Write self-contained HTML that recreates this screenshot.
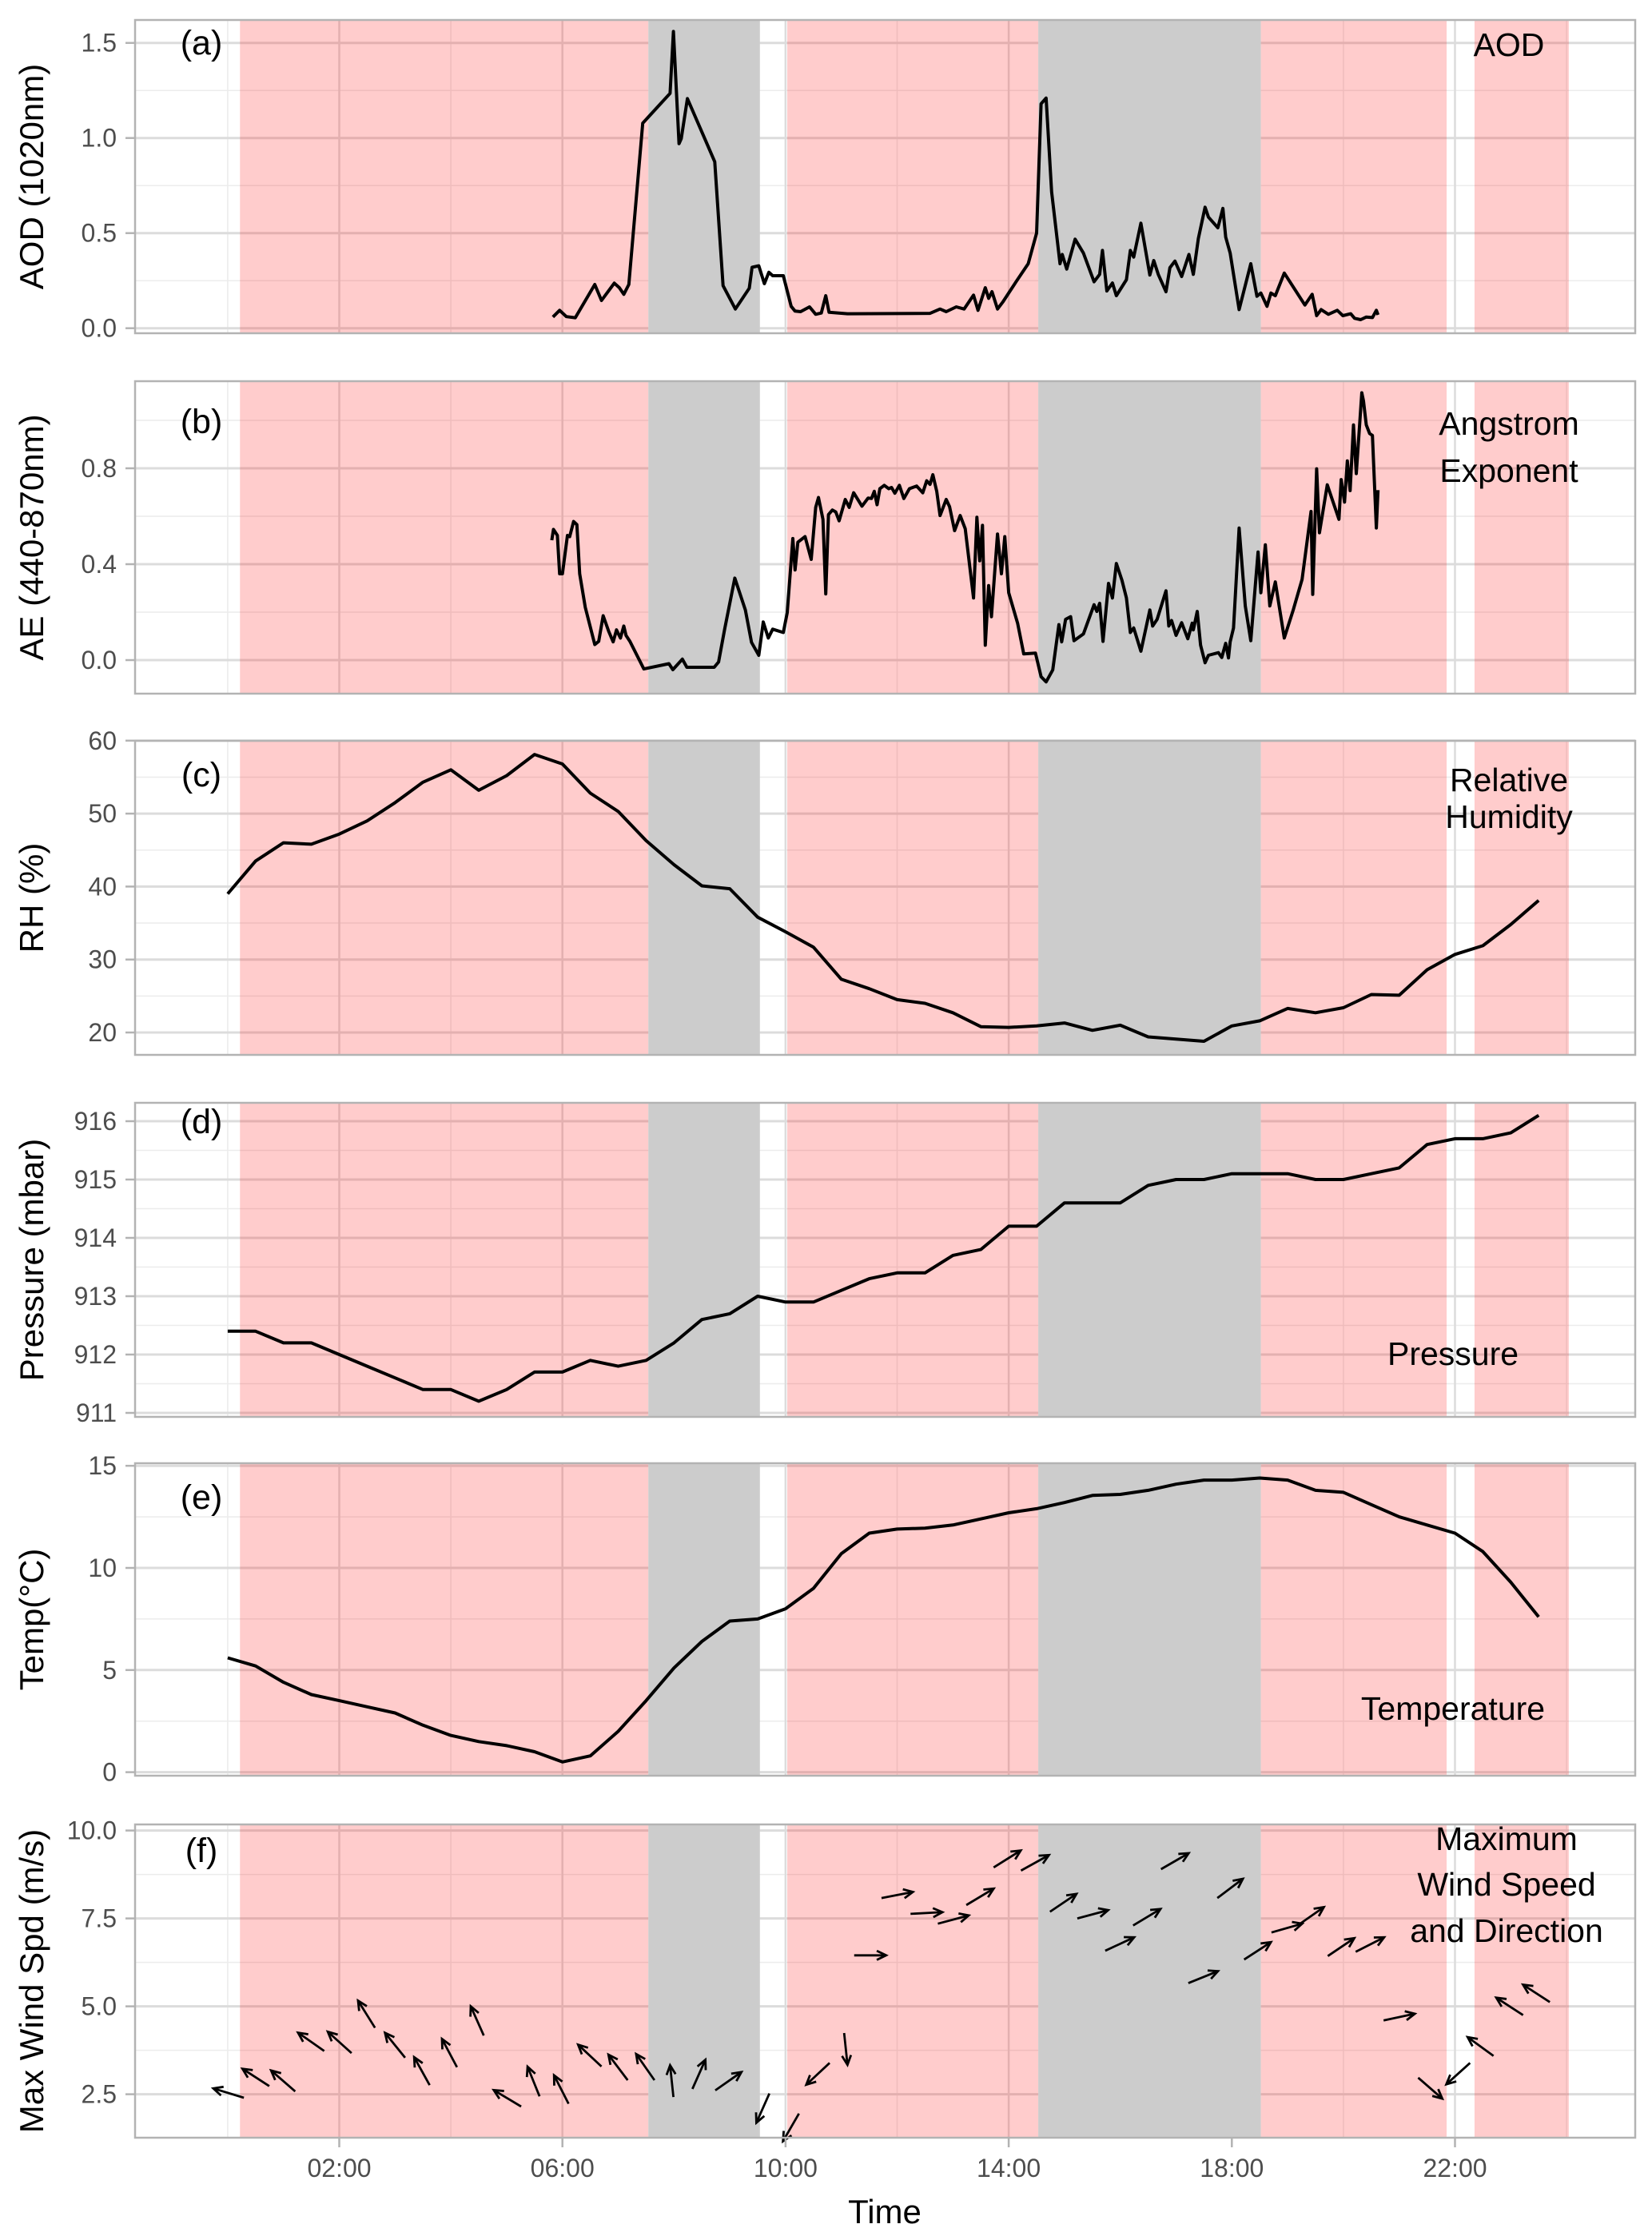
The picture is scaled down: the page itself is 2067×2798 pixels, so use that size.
<!DOCTYPE html>
<html><head><meta charset="utf-8"><style>
html,body{margin:0;padding:0;background:#fff;}
svg{display:block;font-family:"Liberation Sans",Arial,sans-serif;}
</style></head><body>
<svg id="chart" width="2067" height="2798" viewBox="0 0 2067 2798" xmlns="http://www.w3.org/2000/svg"></svg>
<script>
// ---- data ----
const shadePink = [[0.22,7.54],[10.03,14.53],[18.52,21.85],[22.35,24.04]];
const shadeGray = [[7.54,9.54],[14.53,18.52]];
const xTickHours = [2,6,10,14,18,22];
const xTickLabels = ["02:00","06:00","10:00","14:00","18:00","22:00"];

const aodTime = [5.83,5.95,6.07,6.23,6.58,6.70,6.93,7.02,7.10,7.19,7.44,7.93,7.99,8.09,8.13,8.24,8.73,8.88,9.10,9.35,9.40,9.52,9.62,9.70,9.77,9.96,10.10,10.17,10.27,10.43,10.54,10.64,10.72,10.78,11.11,12.59,12.77,12.88,13.06,13.20,13.37,13.45,13.58,13.64,13.70,13.80,13.90,14.14,14.35,14.50,14.58,14.67,14.77,14.92,14.96,15.04,15.19,15.34,15.53,15.63,15.68,15.76,15.86,15.93,16.11,16.18,16.24,16.37,16.53,16.60,16.68,16.82,16.89,16.98,17.10,17.23,17.31,17.40,17.52,17.58,17.75,17.84,17.89,17.97,18.13,18.34,18.45,18.52,18.63,18.70,18.78,18.94,19.31,19.44,19.52,19.60,19.73,19.89,19.99,20.13,20.20,20.31,20.41,20.52,20.59,20.62];
const aodValue = [0.059,0.094,0.061,0.055,0.23,0.146,0.237,0.213,0.178,0.23,1.078,1.235,1.56,0.97,0.997,1.207,0.875,0.224,0.101,0.21,0.32,0.328,0.234,0.294,0.276,0.276,0.115,0.09,0.087,0.112,0.073,0.08,0.171,0.084,0.076,0.078,0.101,0.087,0.112,0.101,0.174,0.094,0.213,0.157,0.192,0.101,0.14,0.248,0.339,0.50,1.18,1.21,0.717,0.339,0.388,0.311,0.468,0.395,0.244,0.283,0.409,0.196,0.238,0.171,0.255,0.409,0.374,0.552,0.28,0.356,0.283,0.192,0.318,0.353,0.272,0.388,0.283,0.472,0.636,0.584,0.528,0.63,0.479,0.395,0.098,0.339,0.168,0.185,0.115,0.185,0.171,0.29,0.122,0.178,0.066,0.098,0.073,0.094,0.066,0.076,0.052,0.045,0.059,0.056,0.094,0.07];

const aeTime = [5.81,5.84,5.91,5.95,6.00,6.09,6.13,6.20,6.26,6.31,6.41,6.58,6.65,6.73,6.83,6.91,6.97,7.04,7.10,7.14,7.21,7.46,7.91,7.98,8.15,8.23,8.72,8.80,8.91,9.09,9.28,9.39,9.52,9.60,9.69,9.77,9.96,10.03,10.13,10.17,10.22,10.35,10.46,10.54,10.59,10.67,10.72,10.77,10.84,10.90,10.96,11.07,11.14,11.22,11.37,11.48,11.54,11.59,11.64,11.69,11.77,11.85,11.90,11.96,12.04,12.12,12.22,12.35,12.46,12.53,12.59,12.64,12.71,12.77,12.88,12.94,13.03,13.13,13.22,13.37,13.43,13.48,13.53,13.58,13.64,13.69,13.80,13.87,13.93,14.00,14.16,14.27,14.48,14.58,14.67,14.79,14.90,14.95,15.02,15.11,15.17,15.34,15.53,15.58,15.63,15.69,15.79,15.86,15.93,16.03,16.11,16.18,16.24,16.37,16.53,16.58,16.66,16.82,16.87,16.92,17.00,17.10,17.21,17.29,17.31,17.38,17.44,17.52,17.58,17.76,17.82,17.89,17.94,17.97,18.03,18.13,18.24,18.34,18.47,18.52,18.60,18.68,18.78,18.94,19.10,19.26,19.42,19.45,19.52,19.57,19.71,19.92,19.96,20.02,20.07,20.12,20.18,20.23,20.33,20.36,20.41,20.47,20.52,20.59,20.62];
const aeValue = [0.50,0.545,0.52,0.36,0.36,0.52,0.515,0.578,0.565,0.36,0.22,0.065,0.078,0.185,0.12,0.076,0.126,0.092,0.142,0.103,0.078,-0.037,-0.015,-0.04,0.004,-0.03,-0.03,-0.008,0.131,0.342,0.209,0.074,0.02,0.159,0.092,0.129,0.115,0.198,0.507,0.376,0.492,0.515,0.42,0.637,0.678,0.587,0.276,0.607,0.626,0.618,0.581,0.67,0.637,0.698,0.642,0.676,0.674,0.704,0.648,0.715,0.729,0.715,0.72,0.696,0.729,0.674,0.715,0.726,0.698,0.748,0.733,0.773,0.703,0.603,0.67,0.64,0.54,0.603,0.548,0.259,0.596,0.414,0.562,0.062,0.311,0.181,0.526,0.36,0.515,0.281,0.153,0.026,0.029,-0.069,-0.091,-0.041,0.148,0.076,0.17,0.181,0.081,0.109,0.231,0.203,0.237,0.078,0.32,0.259,0.403,0.333,0.259,0.115,0.134,0.037,0.209,0.142,0.17,0.289,0.142,0.165,0.103,0.156,0.089,0.154,0.126,0.203,0.062,-0.011,0.02,0.031,0.011,0.07,0.009,0.076,0.134,0.551,0.226,0.081,0.451,0.281,0.481,0.226,0.326,0.092,0.209,0.337,0.62,0.274,0.798,0.531,0.731,0.587,0.753,0.659,0.831,0.707,0.981,0.778,1.115,1.081,0.981,0.945,0.937,0.551,0.709];

const rhTime = [0,0.5,1,1.5,2,2.5,3,3.5,4,4.5,5,5.5,6,6.5,7,7.5,8,8.5,9,9.5,10,10.5,11,11.5,12,12.5,13,13.5,14,14.5,15,15.5,16,16.5,17.5,18,18.5,19,19.5,20,20.5,21,21.5,22,22.5,23,23.5];
const rhValue = [39,43.5,46,45.8,47.2,49,51.5,54.3,56,53.2,55.2,58.1,56.8,52.8,50.3,46.3,43,40.1,39.7,35.8,33.8,31.7,27.3,26,24.5,24,22.7,20.8,20.7,20.9,21.3,20.3,21,19.4,18.8,20.9,21.6,23.3,22.7,23.4,25.2,25.1,28.6,30.7,31.9,34.8,38.1];

const presTime = [0,0.5,1,1.5,2,2.5,3,3.5,4,4.5,5,5.5,6,6.5,7,7.5,8,8.5,9,9.5,10,10.5,11,11.5,12,12.5,13,13.5,14,14.5,15,15.5,16,16.5,17,17.5,18,18.5,19,19.5,20,20.5,21,21.5,22,22.5,23,23.5];
const presValue = [912.4,912.4,912.2,912.2,912.0,911.8,911.6,911.4,911.4,911.2,911.4,911.7,911.7,911.9,911.8,911.9,912.2,912.6,912.7,913.0,912.9,912.9,913.1,913.3,913.4,913.4,913.7,913.8,914.2,914.2,914.6,914.6,914.6,914.9,915.0,915.0,915.1,915.1,915.1,915.0,915.0,915.1,915.2,915.6,915.7,915.7,915.8,916.1];

const tempTime = [0,0.5,1,1.5,2,2.5,3,3.5,4,4.5,5,5.5,6,6.5,7,7.5,8,8.5,9,9.5,10,10.5,11,11.5,12,12.5,13,13.5,14,14.5,15,15.5,16,16.5,17,17.5,18,18.5,19,19.5,20,20.5,21,21.5,22,22.5,23,23.5];
const tempValue = [5.6,5.2,4.4,3.8,3.5,3.2,2.9,2.3,1.8,1.5,1.3,1.0,0.5,0.8,2.0,3.5,5.1,6.4,7.4,7.5,8.0,9.0,10.7,11.7,11.9,11.95,12.1,12.4,12.7,12.9,13.2,13.55,13.6,13.8,14.1,14.3,14.3,14.4,14.3,13.8,13.7,13.1,12.5,12.1,11.7,10.8,9.3,7.6];

const windTime = [0.29,0.745,1.21,1.73,2.22,2.64,3.18,3.62,4.11,4.59,5.26,5.59,6.11,6.70,7.17,7.65,7.99,8.33,8.74,9.71,10.24,10.79,11.05,11.23,11.72,12.24,12.73,13.24,13.73,14.22,14.74,15.23,15.73,16.23,16.73,17.22,17.74,18.22,18.71,19.18,19.72,20.22,20.72,21.34,22.27,22.69,23.22,23.70];
const windSpeed = [2.40,2.73,2.58,3.73,3.67,4.39,3.54,2.76,3.27,4.17,2.15,2.44,2.23,3.29,2.90,2.90,2.42,2.65,2.61,2.52,1.95,3.39,4.24,6.45,8.08,7.63,7.35,7.88,8.95,8.86,7.69,7.50,6.58,7.30,8.90,5.66,8.08,6.33,7.10,7.30,6.43,6.55,4.60,2.97,3.39,3.59,4.75,5.12];
const windDirDeg = [163,147,139,145,138,122,129,119,118,114,149,112,117,137,127,125,96,66,35,246,240,223,276,0,11,3,15,31,32,29,34,15,25,31,30,22,37,33,16,35,34,27,12,319,222,144,147,147];

// ---- layout ----
const NS = "http://www.w3.org/2000/svg";
const svg = document.getElementById('chart');
const PL = 169, PR = 2046;
const xS = t => 284.9 + t * 69.8;
function mk(tag, attrs, parent){const e=document.createElementNS(NS,tag);for(const k in attrs)e.setAttribute(k,attrs[k]);(parent||svg).appendChild(e);return e;}

const panels = [
 {id:'aod', top:25, bot:417, y:v=>410.7-v*238, major:[0,0.5,1,1.5], labels:["0.0","0.5","1.0","1.5"], minor:[0.25,0.75,1.25], title:"AOD (1020nm)", letter:"(a)", lb:68, ann:["AOD"], annX:1888, annY:[70]},
 {id:'ae', top:477, bot:868, y:v=>826-v*300, major:[0,0.4,0.8], labels:["0.0","0.4","0.8"], minor:[0.2,0.6,1.0], title:"AE (440-870nm)", letter:"(b)", lb:542, ann:["Angstrom","Exponent"], annX:1888, annY:[544,603]},
 {id:'rh', top:927, bot:1320, y:v=>1292-(v-20)*9.13, major:[20,30,40,50,60], labels:["20","30","40","50","60"], minor:[25,35,45,55], title:"RH (%)", letter:"(c)", lb:984, ann:["Relative","Humidity"], annX:1888, annY:[990,1036]},
 {id:'pres', top:1380, bot:1773, y:v=>1768-(v-911)*73, major:[911,912,913,914,915,916], labels:["911","912","913","914","915","916"], minor:[911.5,912.5,913.5,914.5,915.5], title:"Pressure (mbar)", letter:"(d)", lb:1418, ann:["Pressure"], annX:1818, annY:[1708]},
 {id:'temp', top:1831, bot:2222, y:v=>2217.6-v*25.56, major:[0,5,10,15], labels:["0","5","10","15"], minor:[2.5,7.5,12.5], title:"Temp(°C)", letter:"(e)", lb:1888, ann:["Temperature"], annX:1818, annY:[2152]},
 {id:'wind', top:2283, bot:2675, y:v=>2620.6-(v-2.5)*44, major:[2.5,5,7.5,10], labels:["2.5","5.0","7.5","10.0"], minor:[3.75,6.25,8.75], title:"Max Wind Spd (m/s)", letter:"(f)", lb:2330, ann:["Maximum","Wind Speed","and Direction"], annX:1885, annY:[2315,2372,2430]}
];
const vMajor=[2,6,10,14,18,22], vMinor=[0,4,8,12,16,20,24];

panels.forEach((p,i)=>{
  const g = mk('g',{});
  
  
  mk('rect',{x:PL,y:p.top,width:PR-PL,height:p.bot-p.top,fill:'#fff'},g);
  p.minor.forEach(v=>{const y=p.y(v); if(y>p.top&&y<p.bot) mk('line',{x1:PL,x2:PR,y1:y,y2:y,stroke:'#ececec','stroke-width':1.5},g);});
  vMinor.forEach(t=>mk('line',{x1:xS(t),x2:xS(t),y1:p.top,y2:p.bot,stroke:'#ececec','stroke-width':1.5},g));
  p.major.forEach(v=>{const y=p.y(v); mk('line',{x1:PL,x2:PR,y1:y,y2:y,stroke:'#dcdcdc','stroke-width':3},g);});
  vMajor.forEach(t=>mk('line',{x1:xS(t),x2:xS(t),y1:p.top,y2:p.bot,stroke:'#dcdcdc','stroke-width':2.5},g));
  shadePink.forEach(s=>{const r=mk('rect',{x:xS(s[0]),y:p.top,width:xS(s[1])-xS(s[0]),height:p.bot-p.top,fill:'#ff0000','fill-opacity':0.2},g);
     });
  shadeGray.forEach(s=>{const r=mk('rect',{x:xS(s[0]),y:p.top,width:xS(s[1])-xS(s[0]),height:p.bot-p.top,fill:'#cccccc'},g);
     });
  p.major.forEach((v,k)=>{const y=p.y(v);
    mk('line',{x1:157,x2:169,y1:y,y2:y,stroke:'#b3b3b3','stroke-width':2.5},g);
    const t=mk('text',{x:146,y:y+11,'text-anchor':'end','font-size':32,fill:'#4d4d4d'},g); t.textContent=p.labels[k];
     });
  const yc=(p.top+p.bot)/2;
  const tt=mk('text',{x:0,y:0,'text-anchor':'middle','font-size':42,fill:'#000',transform:`translate(54,${yc}) rotate(-90)`},g);
  tt.textContent=p.title;  
  const lt=mk('text',{x:252,y:p.lb,'text-anchor':'middle','font-size':43,fill:'#000'},g);
  lt.textContent=p.letter;  
  p.ann.forEach((a,k)=>{const at=mk('text',{x:p.annX,y:p.annY[k],'text-anchor':'middle','font-size':41,fill:'#000'},g);
    at.textContent=a;  });
  p.g=g;
});

function series(p, ts, vs, name){
  const d = ts.map((t,k)=>(k?'L':'M')+xS(t).toFixed(1)+','+p.y(vs[k]).toFixed(1)).join('');
  const path = mk('path',{d:d,fill:'none',stroke:'#000','stroke-width':4,'stroke-linejoin':'round'},p.g);
  
  
}
series(panels[0], aodTime, aodValue, 'aod-line');
series(panels[1], aeTime, aeValue, 'ae-line');
series(panels[2], rhTime, rhValue, 'rh-line');
series(panels[3], presTime, presValue, 'pressure-line');
series(panels[4], tempTime, tempValue, 'temperature-line');

const wp = panels[5];
windTime.forEach((t,k)=>{
  const x0=xS(t), y0=wp.y(windSpeed[k]);
  const a=windDirDeg[k]*Math.PI/180, L=40;
  const x1=x0+L*Math.cos(a), y1=y0-L*Math.sin(a);
  const h=13, sp=0.45;
  const ha1=a+Math.PI-sp, ha2=a+Math.PI+sp;
  const g=mk('g',{stroke:'#000','stroke-width':2.8,fill:'none'},wp.g);
  
  
  mk('line',{x1:x0,y1:y0,x2:x1,y2:y1},g);
  mk('polyline',{points:`${x1+h*Math.cos(ha1)},${y1-h*Math.sin(ha1)} ${x1},${y1} ${x1+h*Math.cos(ha2)},${y1-h*Math.sin(ha2)}`},g);
});

panels.forEach(p=>{const b=mk('rect',{x:PL,y:p.top,width:PR-PL,height:p.bot-p.top,fill:'none',stroke:'#b3b3b3','stroke-width':2.5});
   });

xTickHours.forEach((h,k)=>{
  mk('line',{x1:xS(h),x2:xS(h),y1:2675,y2:2687,stroke:'#b3b3b3','stroke-width':2.5});
  const t=mk('text',{x:xS(h),y:2724,'text-anchor':'middle','font-size':32,fill:'#4d4d4d'});
  t.textContent=xTickLabels[k];
  
  
});
const xt=mk('text',{x:1107,y:2782,'text-anchor':'middle','font-size':42,fill:'#000'});
xt.textContent='Time';


</script>
</body></html>
